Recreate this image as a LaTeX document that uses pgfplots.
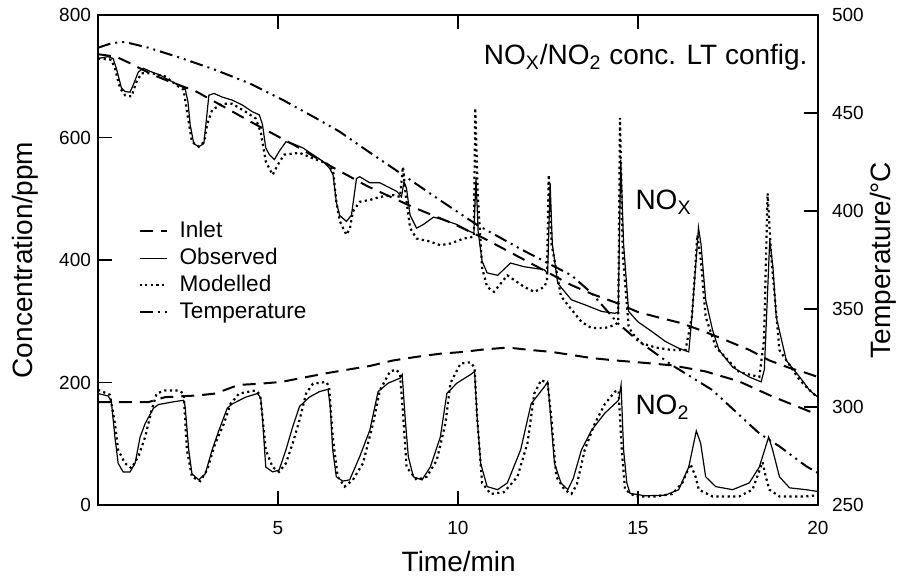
\documentclass[border=0pt]{standalone}
\usepackage{pgfplots}
\pgfplotsset{compat=1.18}
\usepackage{fontspec}
\setmainfont{Liberation Sans}

\pgfplotsset{
  inletstyle/.style={black, line width=1pt, dash pattern=on 6.5pt off 4pt},
  obsstyle/.style={black, line width=0.6pt},
  modstyle/.style={black, line width=1.1pt, dash pattern=on 1.1pt off 1.7pt},
  tempstyle/.style={black, line width=1pt, dash pattern=on 6.5pt off 2.5pt on 1pt off 2.5pt on 1pt off 2.5pt},
  common/.style={scale only axis, width=360pt, height=245pt, xmin=0, xmax=20,
    tick align=inside, major tick length=7pt,
    axis line style={line width=0.9pt},
    every tick/.style={black, line width=0.8pt},
    tick label style={font=\fontsize{9.5}{11}\selectfont},
    label style={font=\fontsize{14}{16}\selectfont},
    /pgf/number format/assume math mode=true}
}

\begin{document}
\begin{tikzpicture}
\path[use as bounding box] (-49pt,-36pt) rectangle (402pt,252.5pt);
\begin{axis}[common,
  ymin=0, ymax=800, ytick={0,200,400,600,800}, ytick pos=left,
  xtick={5,10,15,20},
  xticklabel style={yshift=-4.5pt},
  xlabel={Time/min}, ylabel={Concentration/ppm},
  xlabel style={at={(axis description cs:0.501,-0.1163)}, anchor=center},
  ylabel style={at={(axis description cs:-0.101,0.5)}, anchor=center},
  legend style={at={(0.0556,0.582)}, anchor=north west, draw=none, fill=none,
    font=\fontsize{11.3}{13}\selectfont, row sep=2.5pt, inner sep=0pt,
    nodes={inner sep=0pt, text height=8.5pt, text depth=2.5pt}},
  legend cell align=left,
  legend image code/.code={\draw[#1] (0pt,0pt) -- (13.5pt,0pt); \path (19.5pt,0pt);}
]
\addlegendimage{inletstyle}
\addlegendimage{obsstyle}
\addlegendimage{modstyle}
\addlegendimage{tempstyle}
\legend{Inlet,Observed,Modelled,Temperature}

% NOx inlet
\addplot[inletstyle, forget plot] table {
0 736
0.5 732
0.9 721
1.5 703
2.0 691
2.7 676
3.5 650
4.2 627
4.8 608
5.5 586
6.5 552
7.5 520
8.8 485
9.8 461
10.7 436
11.5 411
12.2 389
13.15 359
13.7 345
14.4 330
15.0 315
15.65 305
16.2 297
16.85 283
17.4 270
18.1 253
18.65 236
19.2 224
19.65 216
20.0 209
};
% NO2 inlet
\addplot[inletstyle, forget plot] table {
0 168
0.56 168
1.4 168
1.86 176
2.8 179
3.26 182
3.9 196
4.5 198
5.1 201
5.8 209
6.43 216
7.55 227
8.2 236
8.86 242
9.51 247
10.16 250
10.72 254
11.38 257
12.03 253
12.59 250
13.15 245
13.7 240
14.36 236
15.0 233
15.95 228
16.88 218
17.8 202
18.74 177
19.67 155
20.0 147
};
% NOx observed
\addplot[obsstyle, forget plot] table {
0 729
0.28 732
0.42 729
0.51 713
0.65 681
0.75 675
0.89 674
0.98 686
1.12 707
1.26 713
1.49 707
1.72 702
1.96 694
2.24 686
2.42 680
2.5 658
2.56 621
2.66 590
2.8 585
2.94 590
3.0 623
3.08 669
3.22 672
3.45 666
3.73 661
4.01 653
4.29 642
4.48 637
4.57 621
4.66 583
4.76 572
4.9 564
5.03 577
5.22 593
5.41 590
5.69 583
5.97 572
6.25 561
6.43 550
6.53 539
6.62 495
6.71 473
6.9 463
7.04 473
7.18 533
7.27 536
7.55 526
7.83 526
8.3 512
8.43 503
8.5 528
8.57 517
8.67 473
8.85 452
9.04 458
9.32 470
9.51 467
9.97 458
10.35 446
10.44 444
10.5 534
10.56 446
10.67 398
10.81 379
11.1 375
11.46 395
11.84 389
12.4 384
12.49 378
12.56 525
12.62 426
12.77 362
13.15 335
13.52 327
13.99 316
14.36 313
14.45 315
14.52 564
14.6 426
14.74 316
15.0 299
15.39 283
15.76 267
16.13 256
16.41 250
16.5 308
16.68 453
16.75 426
16.88 335
17.07 286
17.25 253
17.63 225
18.09 209
18.42 201
18.51 221
18.66 433
18.75 387
18.84 307
19.12 236
19.49 209
19.77 187
20.0 176
};
% NOx modelled
\addplot[modstyle, forget plot] table {
0 729
0.37 727
0.47 713
0.61 681
0.75 669
0.93 667
1.07 691
1.21 705
1.49 705
1.86 700
2.24 683
2.38 678
2.47 643
2.61 593
2.8 585
2.95 593
3.03 621
3.17 645
3.45 655
3.73 655
4.1 642
4.38 631
4.52 609
4.66 561
4.85 539
4.99 555
5.17 572
5.6 575
5.97 566
6.34 558
6.53 547
6.62 495
6.72 463
6.9 441
7.0 452
7.08 479
7.27 495
7.55 498
7.83 503
8.2 506
8.39 503
8.47 552
8.55 505
8.67 452
8.85 435
9.23 430
9.51 424
9.79 427
10.16 435
10.44 438
10.48 648
10.55 505
10.67 387
10.81 356
11.0 348
11.37 375
11.84 356
12.12 348
12.4 356
12.47 367
12.52 539
12.6 426
12.86 341
13.1 323
13.43 299
13.71 289
14.08 289
14.36 294
14.45 298
14.5 632
14.58 406
14.74 292
14.83 281
15.11 264
15.5 257
15.95 253
16.32 253
16.5 308
16.65 441
16.75 397
16.88 307
17.16 258
17.81 217
18.37 209
18.5 269
18.6 509
18.7 406
18.93 253
19.49 204
19.86 182
20.0 176
};
% NO2 observed
\addplot[obsstyle, forget plot] table {
0 182
0.28 178
0.37 170
0.47 111
0.56 68
0.7 54
0.89 54
1.03 68
1.17 111
1.31 133
1.54 158
1.68 164
2.05 168
2.38 171
2.42 161
2.52 90
2.61 51
2.8 41
2.98 51
3.17 90
3.36 122
3.59 158
3.73 165
4.1 176
4.43 182
4.52 175
4.57 141
4.66 62
4.85 54
5.03 57
5.22 90
5.41 128
5.6 161
5.87 176
6.15 185
6.39 189
6.45 161
6.52 90
6.62 46
6.8 39
6.99 41
7.27 79
7.55 122
7.78 185
8.06 199
8.39 207
8.45 213
8.53 144
8.62 79
8.76 46
9.0 41
9.23 62
9.51 111
9.69 182
9.97 199
10.35 213
10.46 218
10.53 144
10.63 68
10.81 30
11.1 25
11.37 36
11.74 90
12.03 165
12.4 193
12.49 201
12.55 161
12.68 68
12.86 36
13.05 25
13.2 43
13.43 90
13.71 122
14.08 150
14.46 171
14.53 196
14.6 90
14.69 36
14.78 19
15.2 15
15.76 16
16.13 25
16.41 62
16.62 121
16.74 101
16.88 46
17.16 30
17.63 25
18.09 36
18.37 62
18.63 111
18.74 90
18.93 46
19.21 28
19.67 25
20.0 22
};
% NO2 modelled
\addplot[modstyle, forget plot] table {
0 188
0.33 180
0.47 133
0.56 90
0.75 68
0.93 60
1.12 79
1.31 111
1.49 155
1.63 182
1.86 187
2.24 187
2.38 182
2.47 90
2.61 46
2.84 39
3.03 57
3.26 101
3.5 133
3.68 165
3.92 182
4.38 187
4.5 180
4.57 144
4.66 90
4.85 62
5.03 54
5.22 68
5.41 101
5.6 139
5.78 182
5.97 198
6.34 201
6.42 193
6.52 111
6.66 46
6.85 30
7.08 41
7.36 68
7.64 133
7.83 187
8.11 218
8.29 221
8.39 213
8.48 144
8.57 62
8.85 41
9.13 46
9.41 73
9.65 133
9.79 199
10.07 231
10.35 233
10.46 224
10.53 144
10.67 36
10.91 18
11.28 21
11.65 46
11.93 101
12.12 182
12.31 204
12.49 199
12.59 144
12.73 46
12.96 25
13.15 18
13.3 33
13.52 90
13.8 133
14.08 165
14.36 185
14.46 187
14.55 90
14.64 25
14.92 14
15.48 14
15.95 18
16.23 36
16.46 67
16.6 46
16.69 25
17.07 14
17.81 14
18.18 25
18.46 70
18.55 46
18.65 25
18.93 14
19.67 14
20.0 16
};
\node[anchor=base east, font=\fontsize{14}{16}\selectfont, inner sep=0pt] at (axis description cs:0.986,0.898) {NO\textsubscript{X}/NO\textsubscript{2} conc. LT config.};
\node[anchor=base west, font=\fontsize{14}{16}\selectfont, inner sep=0pt] at (axis cs:14.92,482) {NO\textsubscript{X}};
\node[anchor=base west, font=\fontsize{14}{16}\selectfont, inner sep=0pt] at (axis cs:14.92,147) {NO\textsubscript{2}};
\end{axis}

\begin{axis}[common,
  ymin=250, ymax=500, ytick={250,300,...,500},
  axis y line*=right, axis x line=none,
  yticklabel style={xshift=3.5pt},
  ylabel={Temperature/°C},
  ylabel style={at={(axis description cs:1.090,0.5)}, anchor=center}
]
\addplot[tempstyle] table {
0 483.3
0.4 485.7
0.75 486.2
1.4 483.3
2.33 477.9
3.26 472
4.2 465.2
5.13 456.7
6.06 447.3
6.71 440.5
7.6 429.2
8.48 418.3
9.5 405.5
10.54 392.8
11.8 380
13.15 367.2
13.7 358.3
14.45 342.6
15.0 333.8
15.94 321.4
17.06 308.7
18.37 286.5
18.93 279.9
19.67 269.8
20 266.3
};
\end{axis}
\end{tikzpicture}
\end{document}
